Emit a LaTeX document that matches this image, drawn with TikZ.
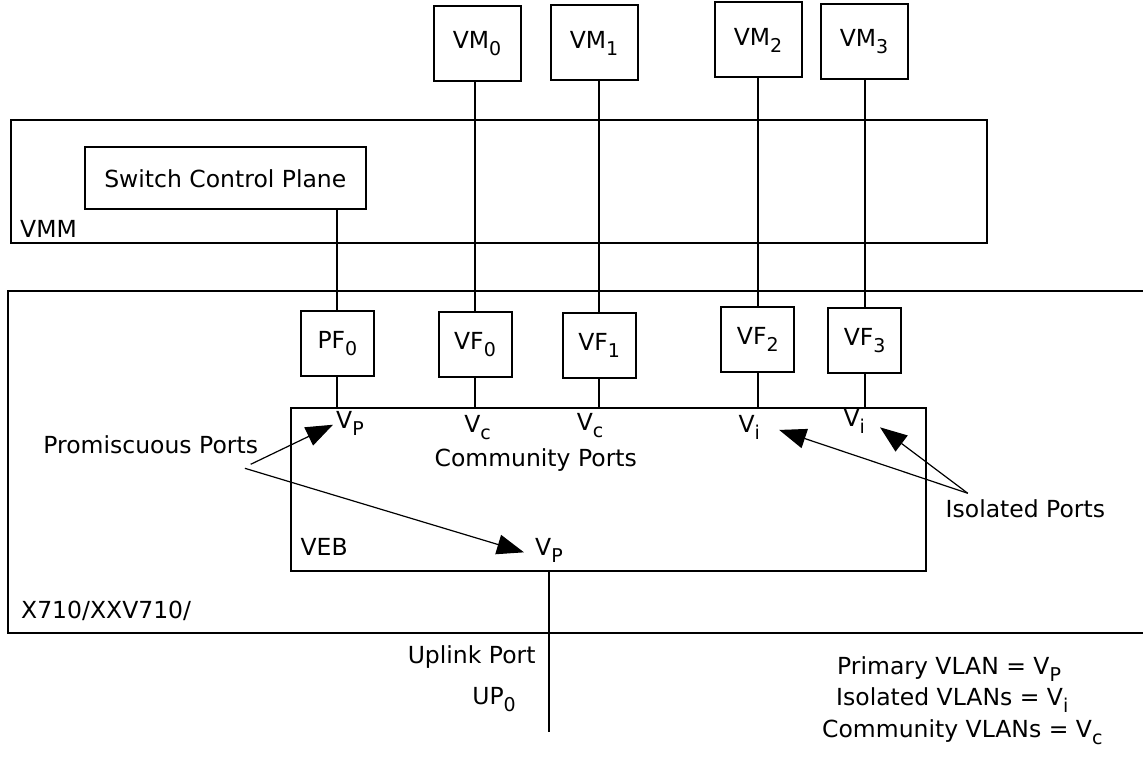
\documentclass[tikz,border=0pt]{standalone}
\usepackage{fontspec}
\setmainfont{DejaVu Sans}
\usetikzlibrary{arrows.meta}
\newcommand{\lowsub}[1]{\raisebox{-7pt}{\fontsize{19}{22}\selectfont #1}}

\begin{document}
\begin{tikzpicture}[x=1pt, y=-1pt, >={Triangle[length=27pt, width=20pt]},
  font=\fontsize{23.5}{28}\selectfont,
  box/.style={draw, rectangle, line width=2pt, inner sep=0pt},
  vmbox/.style={box, minimum width=87pt, minimum height=75pt},
  fnbox/.style={box, minimum width=73pt, minimum height=65pt},
  wire/.style={line width=2pt},
  lbl/.style={inner sep=0pt, anchor=base west},
  pointer/.style={->, line width=1.2pt}]
\useasboundingbox (0,0) rectangle (1143,765);
\node[box, minimum width=976pt, minimum height=123pt] (vmm) at (499,181.7) {};
\node[box, minimum width=1152pt, minimum height=342pt] (nic) at (584,462) {};
\node[box, minimum width=635pt, minimum height=163pt] (veb) at (608.6,489.2) {};
\node[box, minimum width=281pt, minimum height=62pt] (scp) at (225.3,178.3) {Switch Control Plane};
\node[vmbox] (vm0) at (477,43.3) {VM\lowsub{0}};
\node[vmbox] (vm1) at (594,43) {VM\lowsub{1}};
\node[vmbox] (vm2) at (758,40) {VM\lowsub{2}};
\node[vmbox] (vm3) at (864,41.7) {VM\lowsub{3}};
\node[fnbox] (pf0) at (337.4,343.5) {PF\lowsub{0}};
\node[fnbox] (vf0) at (475,344.7) {VF\lowsub{0}};
\node[fnbox] (vf1) at (599.2,345.2) {VF\lowsub{1}};
\node[fnbox] (vf2) at (757.8,339.5) {VF\lowsub{2}};
\node[fnbox] (vf3) at (864.6,340.6) {VF\lowsub{3}};
\node[lbl] (vmmlbl) at (20,237) {VMM};
\node[lbl] (niclbl) at (21,618.8) {X710/XXV710/};
\node[lbl] (veblbl) at (300.4,555.4) {VEB};
\node[lbl] (vpa) at (336,428.8) {V\lowsub{P}};
\node[lbl] (vca) at (464.2,432) {V\lowsub{c}};
\node[lbl] (vcb) at (576.7,430.4) {V\lowsub{c}};
\node[lbl] (via) at (738.4,432) {V\lowsub{i}};
\node[lbl] (vib) at (843.3,426.4) {V\lowsub{i}};
\node[lbl] (vpc) at (535,555.4) {V\lowsub{P}};
\node[lbl] (commlbl) at (434.4,466.4) {Community Ports};
\node[lbl] (promlbl) at (43.2,453.8) {Promiscuous Ports};
\node[lbl] (isolbl) at (945.5,517) {Isolated Ports};
\node[inner sep=0pt, anchor=base east] (uplbl) at (535.7,663) {Uplink Port};
\node[inner sep=0pt, anchor=base east] (up0) at (516,704.4) {UP\lowsub{0}};
\node[lbl] (keyp) at (837,674.5) {Primary VLAN = V\lowsub{P}};
\node[lbl] (keyi) at (836,705.5) {Isolated VLANs = V\lowsub{i}};
\node[lbl] (keyc) at (822,737.5) {Community VLANs = V\lowsub{c}};
\coordinate (upend) at (549,732);
\coordinate (promoA) at (250.7,464.3);
\coordinate (promoB) at (244.9,468.3);
\coordinate (iso) at (967.8,493.3);
\draw[wire] (scp.south -| pf0.north) -- (pf0.north);
\draw[wire] (vm0.south -| vf0.north) -- (vf0.north);
\draw[wire] (vm1.south -| vf1.north) -- (vf1.north);
\draw[wire] (vm2.south -| vf2.north) -- (vf2.north);
\draw[wire] (vm3.south -| vf3.north) -- (vf3.north);
\foreach \f in {pf0, vf0, vf1, vf2, vf3}
  \draw[wire] (\f.south) -- (\f.south |- veb.north);
\draw[wire] (veb.south -| upend) -- (upend);
\draw[pointer] (promoA) -- ([xshift=-3pt, yshift=-1pt]vpa.west);
\draw[pointer] (promoB) -- ([xshift=-11pt, yshift=-2pt]vpc.west);
\draw[pointer] (iso) -- ([xshift=19pt, yshift=-3pt]via.east);
\draw[pointer] (iso) -- ([xshift=15pt, yshift=-6pt]vib.east);
\end{tikzpicture}
\end{document}
